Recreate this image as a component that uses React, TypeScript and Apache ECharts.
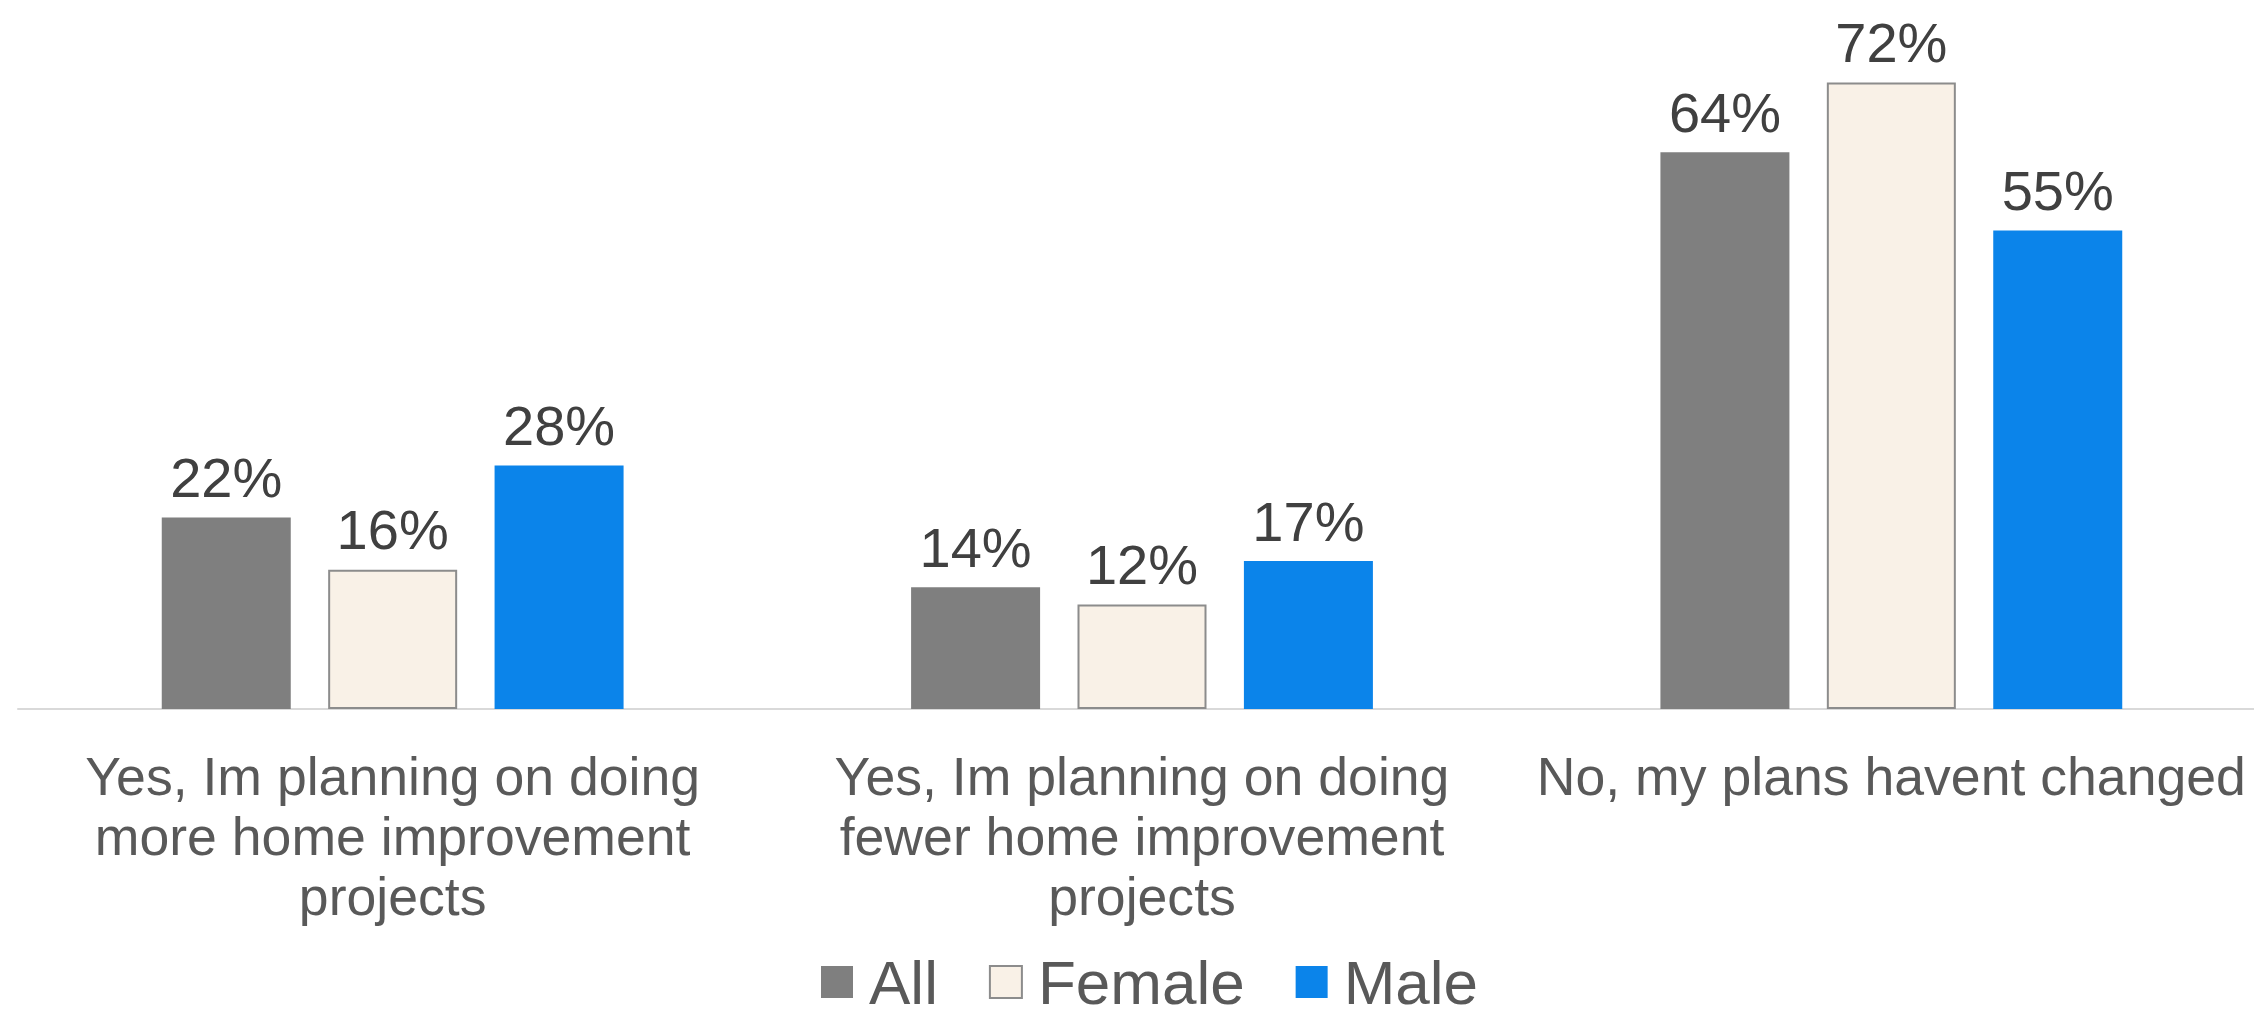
import React, { useEffect, useRef } from "react";
import * as echarts from "echarts";

const categories = [
  "Yes, Im planning on doing\nmore home improvement\nprojects",
  "Yes, Im planning on doing\nfewer home improvement\nprojects",
  "No, my plans havent changed",
];
const seriesNames = ["All", "Female", "Male"];
const allValues = [22, 14, 64];
const femaleValues = [16, 12, 72];
const maleValues = [28, 17, 55];

const FONT = "'Liberation Sans', Arial, sans-serif";

export default function App() {
  const ref = useRef<HTMLDivElement>(null);
  useEffect(() => {
    document.body.style.margin = "0";
    document.body.style.overflow = "hidden";
    const chart = echarts.init(ref.current!, null, { renderer: "svg" });
    const label = {
      show: true,
      position: "top",
      distance: 12,
      fontSize: 56,
      fontFamily: FONT,
      color: "#404040",
      formatter: "{c}%",
    };
    chart.setOption({
      animation: false,
      textStyle: { fontFamily: FONT },
      grid: { left: 18, right: 0, top: 13, bottom: 304, containLabel: false },
      legend: {
        data: seriesNames,
        left: 821,
        top: 951,
        padding: 0,
        itemWidth: 32,
        itemHeight: 32,
        itemGap: 51,
        icon: "rect",
        textStyle: {
          fontSize: 62,
          color: "#595959",
          fontFamily: FONT,
          padding: [0, 0, 0, 11],
        },
      },
      xAxis: {
        type: "category",
        data: categories,
        axisLine: { lineStyle: { color: "#D9D9D9", width: 2 } },
        axisTick: { show: false },
        axisLabel: {
          interval: 0,
          fontSize: 53.6,
          lineHeight: 60,
          color: "#595959",
          fontFamily: FONT,
          margin: 37,
        },
      },
      yAxis: {
        type: "value",
        min: 0,
        max: 80,
        show: false,
        splitLine: { show: false },
      },
      series: [
        {
          name: seriesNames[0],
          type: "bar",
          data: allValues,
          barWidth: 129,
          barGap: "29%",
          itemStyle: { color: "#7F7F7F" },
          label,
        },
        {
          name: seriesNames[1],
          type: "bar",
          data: femaleValues,
          barWidth: 129,
          barGap: "29%",
          itemStyle: { color: "#F9F1E7", borderColor: "#8C8C8C", borderWidth: 2 },
          label,
        },
        {
          name: seriesNames[2],
          type: "bar",
          data: maleValues,
          barWidth: 129,
          barGap: "29%",
          itemStyle: { color: "#0B84EA" },
          label,
        },
      ],
    });
    return () => chart.dispose();
  }, []);
  return <div ref={ref} style={{ width: 2266, height: 1013 }} />;
}
